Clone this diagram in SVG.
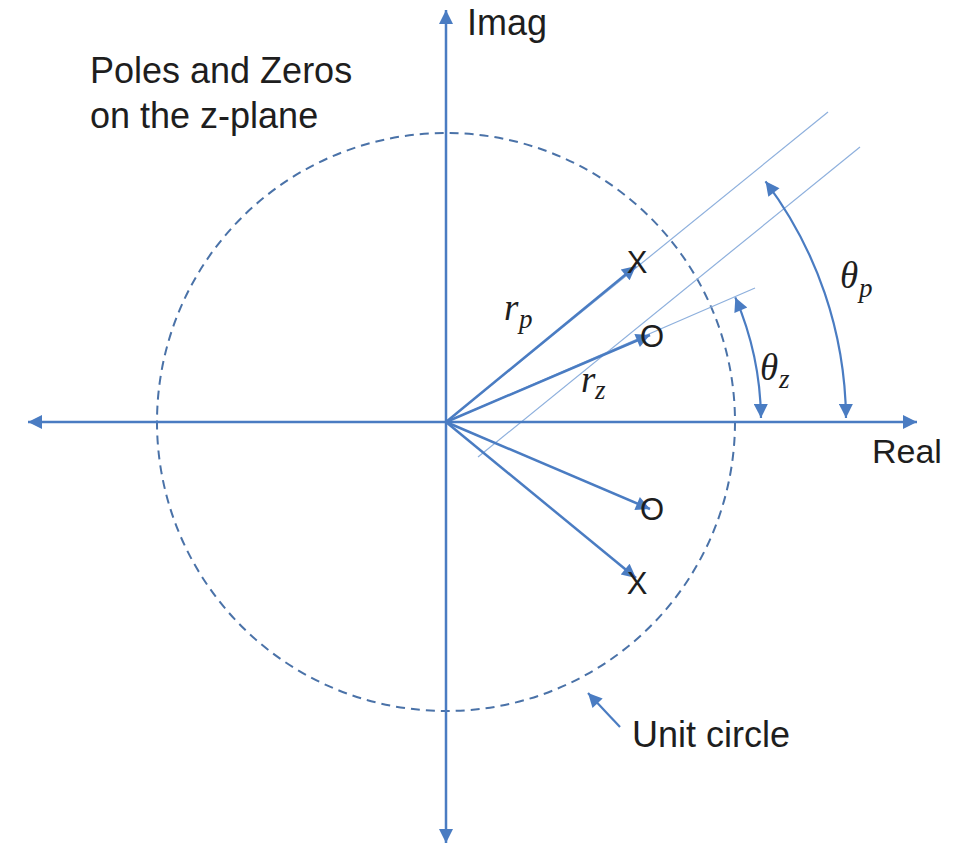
<svg xmlns="http://www.w3.org/2000/svg" width="955" height="847" viewBox="0 0 955 847">
  <style>
    .ax { stroke: #4A7CC2; stroke-width: 2.5; fill: none; }
    .vec { stroke: #4A7CC2; stroke-width: 2.5; fill: none; }
    .thin { stroke: #8EB0DD; stroke-width: 1.2; fill: none; }
    .arc { stroke: #4A7CC2; stroke-width: 2.2; fill: none; }
    .circ { stroke: #4A72A8; stroke-width: 2; fill: none; stroke-dasharray: 9 6; }
    .lbl { font-family: "Liberation Sans", Arial, sans-serif; font-size: 36px; fill: #1E1E1E; }
    .mk { font-family: "Liberation Sans", Arial, sans-serif; font-size: 31px; fill: #1E1E1E; text-anchor: middle; }
    .math { font-family: "Liberation Serif", "Times New Roman", serif; font-style: italic; fill: #1E1E1E; font-size: 37px; }
    .sub { font-size: 27px; }
  </style>
  <defs>
    <marker id="ah" viewBox="0 0 10 10" refX="10" refY="5" markerWidth="16" markerHeight="14" markerUnits="userSpaceOnUse" orient="auto-start-reverse">
      <path d="M0,0 L10,5 L0,10 z" fill="#4A7CC2"/>
    </marker>
    <marker id="ahs" viewBox="0 0 10 10" refX="10" refY="5" markerWidth="18" markerHeight="14" markerUnits="userSpaceOnUse" orient="auto-start-reverse">
      <path d="M0,0 L10,5 L0,10 z" fill="#4A7CC2"/>
    </marker>
  </defs>
  <rect width="955" height="847" fill="#FFFFFF"/>

  <g id="unit-circle">
    <circle class="circ" cx="446" cy="422" r="289"/>
  </g>

  <g id="guides">
    <line class="thin" x1="446" y1="422" x2="828" y2="112"/>
    <line class="thin" x1="478" y1="457" x2="860" y2="147"/>
    <line class="thin" x1="446" y1="422" x2="755" y2="288"/>
  </g>

  <g id="connectors">
    <line class="ax" x1="28" y1="422" x2="917" y2="422" marker-start="url(#ah)" marker-end="url(#ah)"/>
    <line class="ax" x1="446" y1="10" x2="446" y2="843" marker-start="url(#ah)" marker-end="url(#ah)"/>
    <line class="vec" x1="446" y1="422" x2="636" y2="266" marker-end="url(#ahs)"/>
    <line class="vec" x1="446" y1="422" x2="650" y2="335" marker-end="url(#ahs)"/>
    <line class="vec" x1="446" y1="422" x2="650" y2="509" marker-end="url(#ahs)"/>
    <line class="vec" x1="446" y1="422" x2="636" y2="578" marker-end="url(#ahs)"/>
    <path class="arc" d="M 846 418 A 400 400 0 0 0 765.5 181.3" marker-start="url(#ahs)" marker-end="url(#ahs)"/>
    <path class="arc" d="M 761 418 A 315 315 0 0 0 735.3 297.4" marker-start="url(#ahs)" marker-end="url(#ahs)"/>
    <line class="arc" x1="620" y1="727" x2="588" y2="693" marker-end="url(#ahs)"/>
  </g>

  <g id="pole-upper"><text class="mk" x="637" y="273">X</text></g>
  <g id="zero-upper"><text class="mk" x="652" y="347">O</text></g>
  <g id="zero-lower"><text class="mk" x="652" y="520">O</text></g>
  <g id="pole-lower"><text class="mk" x="637" y="594">X</text></g>

  <g id="title">
    <text class="lbl" x="90" y="83">Poles and Zeros</text>
    <text class="lbl" x="90" y="128">on the z-plane</text>
  </g>
  <g id="imag-label"><text class="lbl" x="467" y="35">Imag</text></g>
  <g id="real-label"><text class="lbl" x="872" y="463" style="font-size:34px">Real</text></g>
  <g id="unit-circle-label"><text class="lbl" x="632" y="747">Unit circle</text></g>

  <g id="rp-label"><text class="math" x="504" y="320">r<tspan class="sub" x="519" y="328">p</tspan></text></g>
  <g id="rz-label"><text class="math" x="581" y="392">r<tspan class="sub" x="595" y="399">z</tspan></text></g>
  <g id="thetap-label"><text class="math" x="840" y="288">θ<tspan class="sub" x="859" y="297">p</tspan></text></g>
  <g id="thetaz-label"><text class="math" x="760" y="380">θ<tspan class="sub" x="779" y="388">z</tspan></text></g>
</svg>
